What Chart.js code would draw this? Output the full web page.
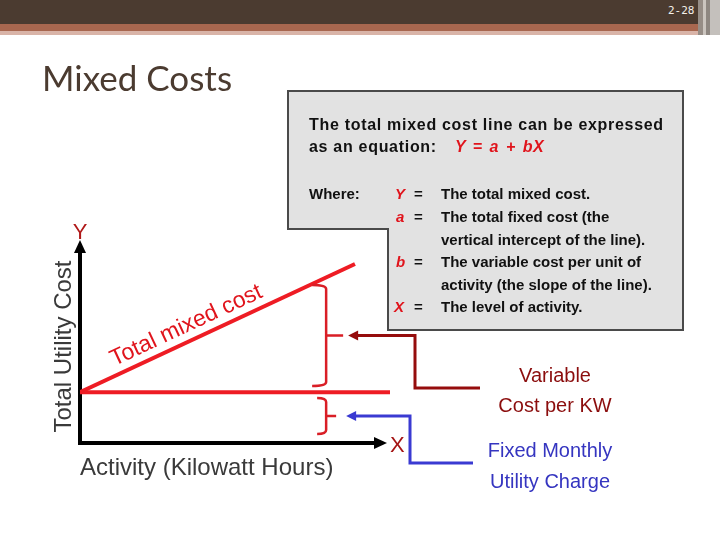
<!DOCTYPE html>
<html lang="en">
<head>
  <meta charset="UTF-8">
  <title>Mixed Costs</title>
  <script src="https://cdn.jsdelivr.net/npm/chart.js"></script>
  <style>
    body { margin: 0; background: #fff; }
    #slide { position: relative; width: 720px; height: 540px; overflow: hidden; font-family: "Liberation Sans", Arial, sans-serif; }
    #chart { position: absolute; left: 0; top: 0; }
    .bar { position: absolute; left: 0; width: 720px; }
    .t { position: absolute; white-space: nowrap; line-height: 1; }
    .box { font-size: 15px; font-weight: bold; color: #111; }
    .red { color: #e0141c; font-style: italic; }
    .lbl { font-size: 20px; width: 200px; text-align: center; }
  </style>
</head>
<body>
  <div id="slide">
    <div class="bar" style="top:0;height:24px;background:#4b3b30"></div>
    <div class="bar" style="top:24px;height:7px;background:#a8674f"></div>
    <div class="bar" style="top:31px;height:4px;background:#d9b4a8"></div>
    <div style="position:absolute;left:698px;top:0;width:5px;height:35px;background:#968d86"></div>
    <div style="position:absolute;left:703px;top:0;width:3px;height:35px;background:#cbc5bf"></div>
    <div style="position:absolute;left:706px;top:0;width:4px;height:35px;background:#8e8781"></div>
    <div style="position:absolute;left:710px;top:0;width:10px;height:35px;background:#c4c0bc"></div>
    <div class="t" style="left:668px;top:4px;font:11px 'DejaVu Sans Mono',monospace;color:#f4f0ea">2-28</div>

    <canvas id="chart" width="720" height="540"></canvas>

    <div class="t" style="left:42px;top:60px;font-family:Lato,sans-serif;font-size:35px;color:#4b3b30">Mixed Costs</div>

    <div class="t box" style="left:309px;top:116.5px;font-size:16px;letter-spacing:0.7px">The total mixed cost line can be expressed</div>
    <div class="t box" style="left:309px;top:138.5px;font-size:16px;letter-spacing:0.7px">as an equation:</div>
    <div class="t box red" style="left:455px;top:138.5px;font-size:16px;letter-spacing:0.5px;word-spacing:2px">Y = a + bX</div>

    <div class="t box" style="left:309px;top:186.3px">Where:</div>
    <div class="t box red" style="left:395px;top:186.3px">Y</div>
    <div class="t box red" style="left:396px;top:208.9px">a</div>
    <div class="t box red" style="left:396px;top:254.1px">b</div>
    <div class="t box red" style="left:394px;top:299.3px">X</div>
    <div class="t box" style="left:414px;top:186.3px">=</div>
    <div class="t box" style="left:414px;top:208.9px">=</div>
    <div class="t box" style="left:414px;top:254.1px">=</div>
    <div class="t box" style="left:414px;top:299.3px">=</div>
    <div class="t box" style="left:441px;top:186.3px">The total mixed cost.</div>
    <div class="t box" style="left:441px;top:208.9px">The total fixed cost (the</div>
    <div class="t box" style="left:441px;top:231.5px">vertical intercept of the line).</div>
    <div class="t box" style="left:441px;top:254.1px">The variable cost per unit of</div>
    <div class="t box" style="left:441px;top:276.7px">activity (the slope of the line).</div>
    <div class="t box" style="left:441px;top:299.3px">The level of activity.</div>

    <div class="t lbl" style="left:455px;top:365px;color:#8b0d0d">Variable</div>
    <div class="t lbl" style="left:455px;top:395px;color:#8b0d0d">Cost per KW</div>
    <div class="t lbl" style="left:450px;top:440px;color:#3535c0">Fixed Monthly</div>
    <div class="t lbl" style="left:450px;top:471px;color:#3535c0">Utility Charge</div>
  </div>

  <script>
    // values (activity on x, cost on y, both 0-100)
    const fixedActivity = [0, 100];
    const fixedCost = [25, 25];
    const mixedActivity = [0, 88.7];
    const mixedCost = [25, 88.2];
    const bracketActivity = 79.4;
    const variableSpan = [28.1, 77.8];
    const fixedSpan = [4.4, 22.2];

    const RED = '#ee1c24';
    const FONT = '"Liberation Sans", Arial, sans-serif';

    function toPoints(xs, ys) {
      return xs.map((x, i) => ({ x: x, y: ys[i] }));
    }

    function arrowHead(ctx, tx, ty, dir, len, half, color) {
      // dir: 'up', 'right', 'left'
      ctx.fillStyle = color;
      ctx.beginPath();
      ctx.moveTo(tx, ty);
      if (dir === 'up') { ctx.lineTo(tx - half, ty + len); ctx.lineTo(tx + half, ty + len); }
      if (dir === 'right') { ctx.lineTo(tx - len, ty - half); ctx.lineTo(tx - len, ty + half); }
      if (dir === 'left') { ctx.lineTo(tx + len, ty - half); ctx.lineTo(tx + len, ty + half); }
      ctx.closePath();
      ctx.fill();
    }

    function bracket(ctx, x, yTop, yBot, arm, tick) {
      const mid = (yTop + yBot) / 2;
      ctx.strokeStyle = '#d91e26';
      ctx.lineWidth = 2.5;
      ctx.lineJoin = 'round';
      ctx.beginPath();
      ctx.moveTo(x - arm, yTop);
      ctx.quadraticCurveTo(x, yTop, x, yTop + 4);
      ctx.lineTo(x, yBot - 4);
      ctx.quadraticCurveTo(x, yBot, x - arm, yBot);
      ctx.moveTo(x, mid);
      ctx.lineTo(x + tick, mid);
      ctx.stroke();
      return mid;
    }

    const backdrop = {
      id: 'backdrop',
      beforeDraw(chart) {
        const ctx = chart.ctx;
        ctx.save();
        ctx.fillStyle = '#e2e2e2';
        ctx.strokeStyle = '#4a4a4a';
        ctx.lineWidth = 2;
        ctx.beginPath();
        ctx.moveTo(288, 91);
        ctx.lineTo(683, 91);
        ctx.lineTo(683, 330);
        ctx.lineTo(388, 330);
        ctx.lineTo(388, 229);
        ctx.lineTo(288, 229);
        ctx.closePath();
        ctx.fill();
        ctx.stroke();
        ctx.restore();
      },
      beforeDatasetsDraw(chart) {
        const ctx = chart.ctx;
        const xs = chart.scales.x, ys = chart.scales.y;
        const x0 = xs.getPixelForValue(0), y0 = ys.getPixelForValue(0);
        const top = chart.chartArea.top, right = chart.chartArea.right - 3;
        ctx.save();
        ctx.strokeStyle = '#000';
        ctx.lineWidth = 4;
        ctx.beginPath();
        ctx.moveTo(x0, y0 + 2);
        ctx.lineTo(x0, top + 10);
        ctx.moveTo(x0 - 2, y0);
        ctx.lineTo(right - 10, y0);
        ctx.stroke();
        arrowHead(ctx, x0, top, 'up', 13, 6, '#000');
        arrowHead(ctx, right, y0, 'right', 13, 6, '#000');
        ctx.restore();
      },
      afterDatasetsDraw(chart) {
        const ctx = chart.ctx;
        const xs = chart.scales.x, ys = chart.scales.y;
        const x0 = xs.getPixelForValue(0), y0 = ys.getPixelForValue(0);
        ctx.save();

        // axis letters and titles
        ctx.textBaseline = 'alphabetic';
        ctx.font = '22px ' + FONT;
        ctx.fillStyle = '#b01818';
        ctx.textAlign = 'center';
        ctx.fillText('Y', x0, chart.chartArea.top - 1);
        ctx.textAlign = 'left';
        ctx.fillStyle = '#a51515';
        ctx.fillText('X', chart.chartArea.right, y0 + 9);

        ctx.font = '24px ' + FONT;
        ctx.fillStyle = '#3a3a3a';
        ctx.fillText('Activity (Kilowatt Hours)', x0, y0 + 32);
        ctx.save();
        ctx.translate(x0 - 9, (ys.getPixelForValue(0) + chart.chartArea.top) / 2 + 5);
        ctx.rotate(-Math.PI / 2);
        ctx.textAlign = 'center';
        ctx.fillText('Total Utility Cost', 0, 0);
        ctx.restore();

        // label along the mixed cost line
        const ax = xs.getPixelForValue(mixedActivity[0]), ay = ys.getPixelForValue(mixedCost[0]);
        const bx = xs.getPixelForValue(mixedActivity[1]), by = ys.getPixelForValue(mixedCost[1]);
        const ang = Math.atan2(ay - by, bx - ax);
        const s = 42;
        ctx.save();
        ctx.translate(ax + s * Math.cos(ang), ay - s * Math.sin(ang));
        ctx.rotate(-ang);
        ctx.font = '23px ' + FONT;
        ctx.fillStyle = '#e0141c';
        ctx.textAlign = 'left';
        ctx.fillText('Total mixed cost', 0, -9);
        ctx.restore();

        // brackets
        const bxp = xs.getPixelForValue(bracketActivity);
        const vMid = bracket(ctx, bxp, ys.getPixelForValue(variableSpan[1]), ys.getPixelForValue(variableSpan[0]), 14, 17);
        const fMid = bracket(ctx, bxp, ys.getPixelForValue(fixedSpan[1]), ys.getPixelForValue(fixedSpan[0]), 9, 10);

        // leader arrows
        ctx.lineWidth = 3;
        ctx.lineJoin = 'miter';
        ctx.strokeStyle = '#950c0c';
        ctx.beginPath();
        ctx.moveTo(bxp + 28, vMid);
        ctx.lineTo(415, vMid);
        ctx.lineTo(415, 388);
        ctx.lineTo(480, 388);
        ctx.stroke();
        arrowHead(ctx, bxp + 22, vMid, 'left', 10, 5, '#950c0c');

        ctx.strokeStyle = '#3a3ad2';
        ctx.beginPath();
        ctx.moveTo(bxp + 26, fMid);
        ctx.lineTo(410, fMid);
        ctx.lineTo(410, 463);
        ctx.lineTo(473, 463);
        ctx.stroke();
        arrowHead(ctx, bxp + 20, fMid, 'left', 10, 5, '#3a3ad2');

        ctx.restore();
      }
    };

    new Chart(document.getElementById('chart'), {
      type: 'scatter',
      data: {
        datasets: [
          { label: 'Fixed cost', data: toPoints(fixedActivity, fixedCost), showLine: true,
            borderColor: RED, borderWidth: 4, pointRadius: 0, borderCapStyle: 'butt' },
          { label: 'Total mixed cost', data: toPoints(mixedActivity, mixedCost), showLine: true,
            borderColor: RED, borderWidth: 4, pointRadius: 0, borderCapStyle: 'butt' }
        ]
      },
      options: {
        responsive: false,
        animation: false,
        layout: { padding: { left: 80, right: 330, top: 240, bottom: 97 } },
        scales: {
          x: { type: 'linear', min: 0, max: 100, display: false },
          y: { type: 'linear', min: 0, max: 100, display: false }
        },
        plugins: { legend: { display: false }, tooltip: { enabled: false } }
      },
      plugins: [backdrop]
    });
  </script>
</body>
</html>
